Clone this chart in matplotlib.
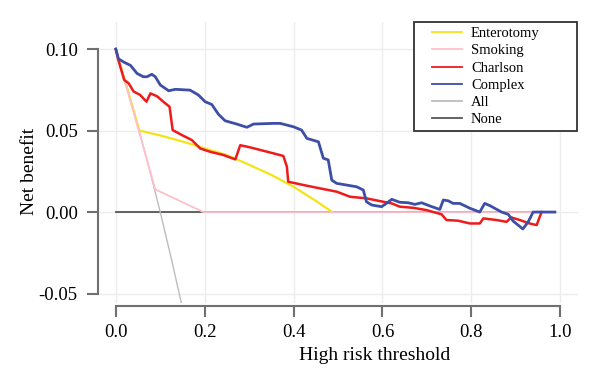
import matplotlib
matplotlib.use("Agg")
import matplotlib.pyplot as plt
from matplotlib.legend_handler import HandlerLine2D

plt.rcParams['font.family'] = ['Liberation Serif', 'DejaVu Serif']

# decision curves
thr_complex = [0, 0.006, 0.018, 0.033, 0.048, 0.062, 0.070, 0.081, 0.089, 0.100, 0.119,
               0.134, 0.167, 0.186, 0.201, 0.216, 0.231, 0.246, 0.272, 0.295, 0.310, 0.355,
               0.370, 0.400, 0.418, 0.430, 0.456, 0.467, 0.478, 0.486, 0.497, 0.542, 0.557,
               0.564, 0.576, 0.598, 0.609, 0.621, 0.639, 0.658, 0.673, 0.688, 0.707, 0.729,
               0.737, 0.748, 0.759, 0.774, 0.797, 0.819, 0.830, 0.842, 0.868, 0.883, 0.894,
               0.916, 0.928, 0.939, 0.988]
nb_complex = [0.100, 0.094, 0.092, 0.090, 0.085, 0.083, 0.083, 0.0845, 0.083, 0.078, 0.0744,
              0.0753, 0.0748, 0.0718, 0.0677, 0.066, 0.060, 0.056, 0.054, 0.052, 0.054, 0.0544,
              0.0544, 0.0523, 0.0503, 0.0452, 0.0431, 0.033, 0.032, 0.0196, 0.0176, 0.0155, 0.0135,
              0.0063, 0.0043, 0.0033, 0.0053, 0.0078, 0.0060, 0.0057, 0.0047, 0.0057, 0.0037, 0.0016,
              0.0074, 0.0069, 0.0053, 0.0053, 0.0023, 0.0, 0.0053, 0.0039, 0.0, -0.0014, -0.0055,
              -0.0104, -0.006, 0.0, 0.0]

thr_charlson = [0, 0.006, 0.019, 0.029, 0.040, 0.055, 0.069, 0.078, 0.093, 0.107, 0.121,
                0.128, 0.149, 0.171, 0.190, 0.212, 0.242, 0.269, 0.280, 0.302, 0.355, 0.377,
                0.385, 0.388, 0.422, 0.460, 0.497, 0.527, 0.564, 0.602, 0.621, 0.639, 0.669,
                0.699, 0.733, 0.744, 0.770, 0.797, 0.819, 0.827, 0.857, 0.879, 0.890, 0.909,
                0.931, 0.947, 0.958]
nb_charlson = [0.100, 0.093, 0.081, 0.079, 0.074, 0.0718, 0.0677, 0.0728, 0.071, 0.0677, 0.0646,
               0.0503, 0.0472, 0.0442, 0.039, 0.037, 0.035, 0.0323, 0.041, 0.0397, 0.036, 0.0344,
               0.0278, 0.0186, 0.0166, 0.0145, 0.0125, 0.0094, 0.0084, 0.0063, 0.0053, 0.0033, 0.0026,
               0.0012, -0.0014, -0.0049, -0.0053, -0.007, -0.007, -0.0039, -0.0049, -0.006, -0.0033,
               -0.0049, -0.007, -0.008, 0.0]

thr_entero = [0, 0.053, 0.10, 0.15, 0.20, 0.25, 0.30, 0.35, 0.40, 0.45, 0.487]
nb_entero = [0.100, 0.050, 0.047, 0.0433, 0.0391, 0.035, 0.029, 0.0228, 0.0155, 0.0069, 0.0]

thr_smoking = [0, 0.089, 0.197, 0.985]
nb_smoking = [0.100, 0.0139, 0.0, 0.0]

thr_all = [0, 0.025, 0.05, 0.075, 0.10, 0.125, 0.15, 0.16]
nb_all = [0.100, 0.0769, 0.0526, 0.027, 0.0, -0.0286, -0.0588, -0.0714]

thr_none = [0, 0.985]
nb_none = [0.0, 0.0]

x_ticks = [0.0, 0.2, 0.4, 0.6, 0.8, 1.0]
x_labels = ['0.0', '0.2', '0.4', '0.6', '0.8', '1.0']
y_ticks = [-0.05, 0.0, 0.05, 0.10]
y_labels = ['-0.05', '0.00', '0.05', '0.10']


class PaddedLine(HandlerLine2D):
    # leaves a gap on the left of the legend line, like the R legend
    def create_artists(self, legend, orig_handle, xdescent, ydescent, width,
                       height, fontsize, trans):
        gap = 9.5
        return super().create_artists(legend, orig_handle, xdescent - gap, ydescent,
                                      width - gap, height, fontsize, trans)


fig = plt.figure(figsize=(6, 3.87), dpi=100)
ax = fig.add_axes([98 / 600, 1 - 303 / 387, 480 / 600, 281 / 387])

ax.plot(thr_none, nb_none, color='#555555', lw=1.3, label='None', zorder=2)
ax.plot(thr_all, nb_all, color='#bdbdbd', lw=1.0, label='All', zorder=2)
ax.plot(thr_entero, nb_entero, color='#f3e416', lw=1.6, label='Enterotomy', zorder=3)
ax.plot(thr_smoking, nb_smoking, color='#ffc0cb', lw=1.3, label='Smoking', zorder=3)
ax.plot(thr_charlson, nb_charlson, color='#ee1b1b', lw=1.8, label='Charlson', zorder=4)
ax.plot(thr_complex, nb_complex, color='#3d4ea6', lw=2.0, label='Complex', zorder=5)

ax.set_xlim(-0.04, 1.04)
ax.set_ylim(-0.0558, 0.1166)

for v in x_ticks:
    ax.axvline(v, color='#ececec', lw=1.0, zorder=0)
for v in y_ticks:
    ax.axhline(v, color='#ececec', lw=1.0, zorder=0)

ax.set_xticks(x_ticks)
ax.set_xticklabels(x_labels)
ax.set_yticks(y_ticks)
ax.set_yticklabels(y_labels)

for s in ['top', 'right']:
    ax.spines[s].set_visible(False)
ax.spines['left'].set_bounds(-0.05, 0.10)
ax.spines['bottom'].set_bounds(0.0, 1.0)
ax.spines['bottom'].set_position(('outward', 2))
for s in ['left', 'bottom']:
    ax.spines[s].set_color('#707070')
    ax.spines[s].set_linewidth(1.5)
ax.tick_params(length=8, width=1.5, color='#707070', labelsize=13.5)
ax.tick_params(axis='y', pad=6.5)
ax.tick_params(axis='x', pad=5)

fig.text(29 / 600, 1 - 171 / 387, 'Net benefit', rotation=90, fontsize=14,
         ha='center', va='center')
fig.text(375 / 600, 1 - 355 / 387, 'High risk threshold', fontsize=14,
         ha='center', va='center')

handles, labels = ax.get_legend_handles_labels()
order = ['Enterotomy', 'Smoking', 'Charlson', 'Complex', 'All', 'None']
hmap = dict(zip(labels, handles))
leg = ax.legend([hmap[k] for k in order], order, loc='upper left',
                bbox_to_anchor=(0.658, 0, 0.34, 1.0), mode='expand',
                borderaxespad=0, fancybox=False, fontsize=10.5,
                labelspacing=0.27, handlelength=2.95, handletextpad=0.62,
                borderpad=0.35, framealpha=1,
                handler_map={h: PaddedLine() for h in handles})
leg.get_frame().set_edgecolor('#333333')
leg.get_frame().set_linewidth(1.3)
for line in leg.get_lines():
    line.set_linewidth(1.3)

fig.savefig('out.png', dpi=100)
